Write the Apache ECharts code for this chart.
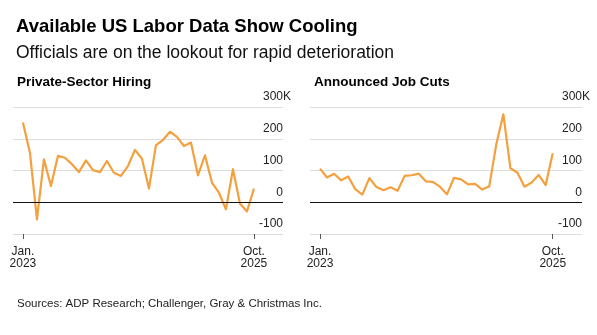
<!DOCTYPE html>
<html>
<head>
<meta charset="utf-8">
<script src="https://cdn.jsdelivr.net/npm/echarts@6/dist/echarts.min.js"></script>
<style>
html,body{margin:0;padding:0;background:#fff;}
#chart{width:597px;height:335px;}
</style>
</head>
<body>
<div id="chart"></div>
<script>
// Monthly series Jan 2023 .. Oct 2025 (34 months), values in thousands
const months = ["2023-01","2023-02","2023-03","2023-04","2023-05","2023-06","2023-07","2023-08","2023-09","2023-10","2023-11","2023-12",
  "2024-01","2024-02","2024-03","2024-04","2024-05","2024-06","2024-07","2024-08","2024-09","2024-10","2024-11","2024-12",
  "2025-01","2025-02","2025-03","2025-04","2025-05","2025-06","2025-07","2025-08","2025-09","2025-10"];
const hiring = [251,156,-54,135,51,146,140,120,95,132,101,95,130,93,83,114,165,137,43,180,196,222,206,177,188,85,148,62,30,-22,104,-4,-29,43];
const jobCuts = [106,78,90,69,81,41,24,76,48,38,47,36,83,85,90,66,64,49,25,77,72,56,58,40,50,183,277,107,93,49,62,86,54,154];
const xTickIndex = [0, 33];
const xTickLabels = ["Jan.\n2023", "Oct.\n2025"];
const yTicks = [-100, 0, 100, 200, 300];

const FONT = "Liberation Sans, Arial, Helvetica, sans-serif";
const ORANGE = "#F5A03F";
const chart = echarts.init(document.getElementById('chart'), null, {renderer: 'canvas'});

function xAxisFor(gi) {
  return {
    type: 'value', gridIndex: gi, min: -1.42, max: 37.15,
    axisLine: {show: false, onZero: false},
    splitLine: {show: false},
    axisTick: {show: true, customValues: xTickIndex, length: 5, lineStyle: {color: '#555', width: 1}},
    axisLabel: {
      show: true, customValues: xTickIndex, margin: 11,
      color: '#222', fontFamily: FONT, fontSize: 12, lineHeight: 12.5,
      formatter: v => xTickLabels[xTickIndex.indexOf(Math.round(v))] || ''
    }
  };
}
function yAxisFor(gi) {
  return {
    type: 'value', gridIndex: gi, position: 'right',
    min: yTicks[0], max: yTicks[yTicks.length - 1], interval: 100,
    axisLine: {show: false}, axisTick: {show: false},
    splitLine: {show: true, lineStyle: {color: '#dcdcdc', width: 1}},
    axisLabel: {
      inside: true, margin: -8, verticalAlign: 'bottom', padding: [0, 0, 4, 0],
      color: '#222', fontFamily: FONT, fontSize: 12,
      formatter: v => v === yTicks[yTicks.length - 1] ? '{t|' + v + 'K}' : '{p|' + v + '}',
      rich: {
        t: {fontFamily: FONT, fontSize: 12, color: '#222'},
        p: {fontFamily: FONT, fontSize: 12, color: '#222', padding: [0, 8, 0, 0]}
      }
    }
  };
}
function seriesFor(gi, values) {
  return {
    type: 'line', xAxisIndex: gi, yAxisIndex: gi,
    data: values.map((v, i) => [i, v]),
    showSymbol: false, symbol: 'none',
    lineStyle: {color: ORANGE, width: 2.2, join: 'round'},
    itemStyle: {color: ORANGE},
    silent: true, animation: false,
    markLine: {
      silent: true, symbol: 'none', animation: false,
      label: {show: false},
      lineStyle: {color: '#111', width: 1, type: 'solid'},
      data: [{yAxis: 0}]
    }
  };
}

const option = {
  backgroundColor: '#fff',
  animation: false,
  title: [
    {text: 'Available US Labor Data Show Cooling', left: 11, top: 12,
     textStyle: {fontFamily: FONT, fontSize: 18.5, fontWeight: 'bold', color: '#000'}},
    {text: 'Officials are on the lookout for rapid deterioration', left: 11, top: 39,
     textStyle: {fontFamily: FONT, fontSize: 17.5, fontWeight: 'normal', color: '#111'}},
    {text: 'Private-Sector Hiring', left: 12, top: 70,
     textStyle: {fontFamily: FONT, fontSize: 13.5, fontWeight: 'bold', color: '#000'}},
    {text: 'Announced Job Cuts', left: 309, top: 70,
     textStyle: {fontFamily: FONT, fontSize: 13.5, fontWeight: 'bold', color: '#000'}},
    {text: 'Sources: ADP Research; Challenger, Gray & Christmas Inc.', left: 12, top: 293,
     textStyle: {fontFamily: FONT, fontSize: 11.5, fontWeight: 'normal', color: '#222'}}
  ],
  grid: [
    {left: 13, top: 107, width: 270, height: 127, containLabel: false},
    {left: 310, top: 107, width: 272, height: 127, containLabel: false}
  ],
  xAxis: [xAxisFor(0), xAxisFor(1)],
  yAxis: [yAxisFor(0), yAxisFor(1)],
  series: [seriesFor(0, hiring), seriesFor(1, jobCuts)]
};
chart.setOption(option);
</script>
</body>
</html>
